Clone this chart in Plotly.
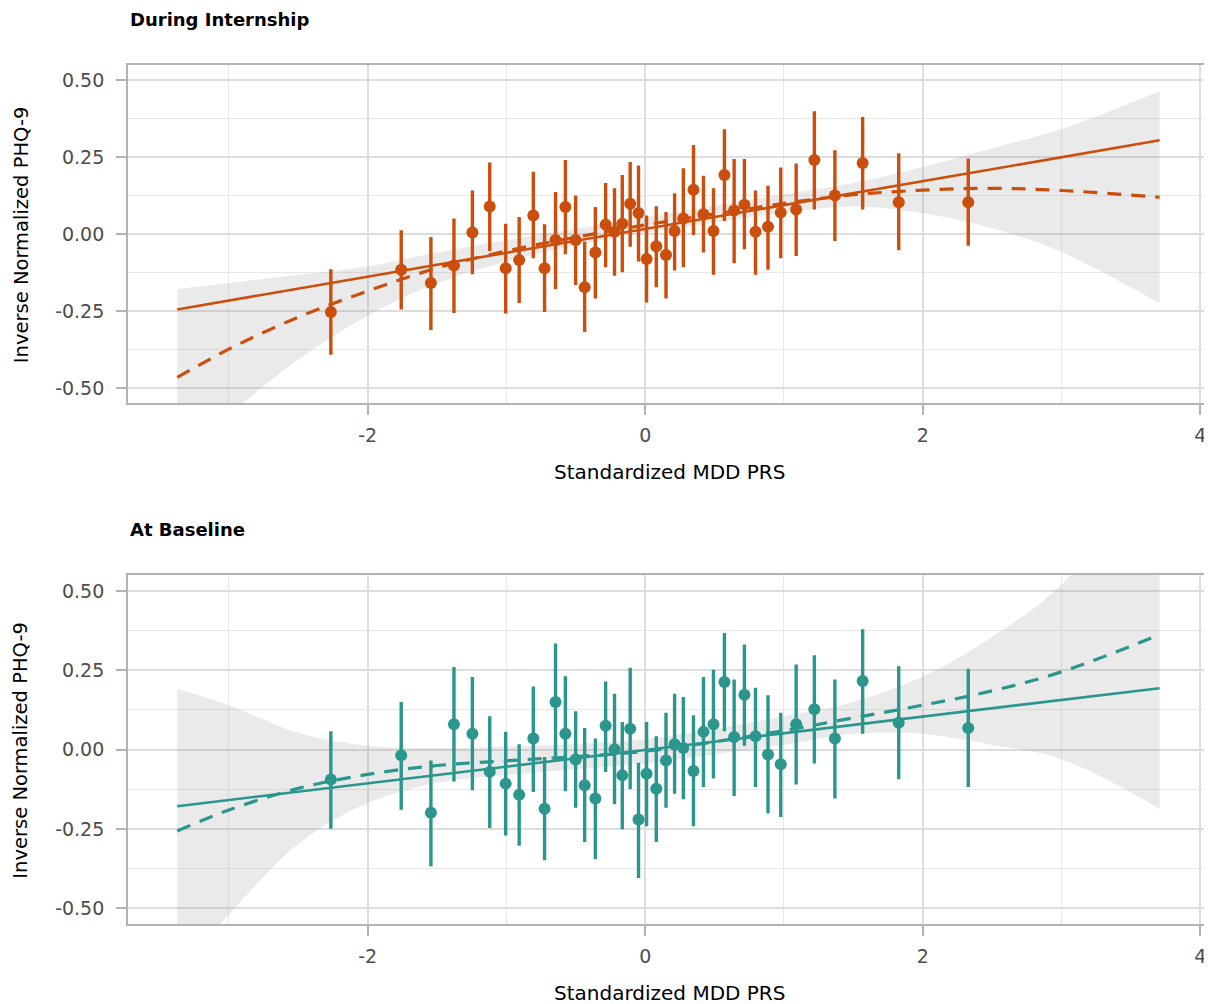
import plotly.graph_objects as go
import numpy as np

# ---------------- data ----------------
prs_bins = [-2.265, -1.758, -1.544, -1.378, -1.245, -1.120, -1.005, -0.908, -0.806, -0.725,
            -0.646, -0.575, -0.501, -0.436, -0.359, -0.285, -0.221, -0.165, -0.108, -0.048,
            0.010, 0.080, 0.150, 0.212, 0.275, 0.348, 0.420, 0.492, 0.571, 0.641,
            0.715, 0.795, 0.885, 0.977, 1.088, 1.219, 1.367, 1.567, 1.827, 2.328]

intern_mean = [-0.253, -0.116, -0.159, -0.102, 0.005, 0.090, -0.111, -0.084, 0.061, -0.111,
               -0.019, 0.088, -0.019, -0.173, -0.060, 0.031, 0.008, 0.034, 0.099, 0.069,
               -0.081, -0.039, -0.068, 0.010, 0.051, 0.144, 0.065, 0.010, 0.192, 0.077,
               0.096, 0.008, 0.024, 0.070, 0.080, 0.241, 0.126, 0.231, 0.104, 0.104]
intern_lo = [-0.392, -0.245, -0.312, -0.256, -0.130, -0.055, -0.258, -0.224, -0.078, -0.253,
             -0.178, -0.065, -0.165, -0.318, -0.209, -0.108, -0.135, -0.124, -0.041, -0.089,
             -0.222, -0.173, -0.209, -0.118, -0.108, -0.003, -0.060, -0.132, 0.043, -0.095,
             -0.049, -0.132, -0.116, -0.078, -0.071, 0.080, -0.022, 0.080, -0.052, -0.038]
intern_hi = [-0.114, 0.013, -0.009, 0.051, 0.142, 0.233, 0.034, 0.056, 0.203, 0.032,
             0.137, 0.241, 0.126, -0.025, 0.088, 0.166, 0.149, 0.192, 0.235, 0.223,
             0.061, 0.091, 0.072, 0.133, 0.214, 0.290, 0.190, 0.149, 0.341, 0.244,
             0.244, 0.142, 0.157, 0.217, 0.230, 0.400, 0.273, 0.381, 0.263, 0.246]

base_mean = [-0.094, -0.018, -0.199, 0.080, 0.050, -0.070, -0.107, -0.142, 0.035, -0.186,
             0.150, 0.050, -0.031, -0.112, -0.154, 0.075, 0.001, -0.081, 0.066, -0.220,
             -0.076, -0.123, -0.034, 0.017, 0.005, -0.067, 0.056, 0.080, 0.213, 0.040,
             0.173, 0.042, -0.015, -0.046, 0.080, 0.127, 0.035, 0.216, 0.085, 0.068]
base_lo = [-0.249, -0.189, -0.367, -0.100, -0.128, -0.247, -0.270, -0.303, -0.133, -0.348,
           -0.034, -0.131, -0.183, -0.291, -0.345, -0.070, -0.172, -0.251, -0.125, -0.404,
           -0.241, -0.291, -0.183, -0.139, -0.156, -0.241, -0.118, -0.091, 0.058, -0.146,
           0.012, -0.118, -0.201, -0.212, -0.110, -0.044, -0.154, 0.050, -0.093, -0.118]
base_hi = [0.058, 0.150, -0.034, 0.260, 0.229, 0.105, 0.056, 0.017, 0.199, -0.023,
           0.334, 0.231, 0.121, 0.068, 0.035, 0.215, 0.176, 0.087, 0.258, -0.041,
           0.087, 0.042, 0.116, 0.176, 0.166, 0.108, 0.229, 0.252, 0.367, 0.221,
           0.331, 0.195, 0.171, 0.116, 0.268, 0.297, 0.221, 0.379, 0.263, 0.255]

# linear fits (range of PRS, intercept, slope)
prs_range = [-3.372, 3.707]
intern_linear = [0.017, 0.0777]
base_linear = [-0.001, 0.0525]

# smooth (non-linear) fits and confidence bands, read at these PRS values
curve_x = [-3.372, -3.0, -2.5, -2.0, -1.5, -1.0, -0.5, 0.0, 0.5, 1.0, 1.5, 2.0, 2.5, 3.0, 3.707]
intern_curve = [-0.466, -0.374, -0.270, -0.185, -0.110, -0.055, -0.010, 0.030, 0.065, 0.100,
                0.128, 0.143, 0.149, 0.142, 0.120]
intern_band_lo = [-0.753, -0.589, -0.408, -0.265, -0.160, -0.090, -0.037, 0.005, 0.038, 0.070,
                  0.090, 0.068, 0.019, -0.058, -0.225]
intern_band_hi = [-0.179, -0.159, -0.132, -0.105, -0.060, -0.020, 0.017, 0.055, 0.092, 0.130,
                  0.166, 0.218, 0.279, 0.342, 0.465]
base_curve = [-0.256, -0.190, -0.122, -0.078, -0.050, -0.035, -0.022, -0.005, 0.025, 0.060,
              0.100, 0.140, 0.185, 0.245, 0.362]
base_band_lo = [-0.704, -0.520, -0.297, -0.168, -0.105, -0.080, -0.062, -0.043, -0.015, 0.015,
                0.050, 0.050, 0.015, -0.030, -0.186]
base_band_hi = [0.192, 0.140, 0.053, 0.012, 0.005, 0.010, 0.018, 0.033, 0.065, 0.105,
                0.150, 0.230, 0.355, 0.520, 0.910]

x_tick_vals = [-2, 0, 2, 4]
x_tick_text = ["-2", "0", "2", "4"]
x_minor_vals = [-3, -1, 1, 3]
y_tick_vals = [-0.5, -0.25, 0.0, 0.25, 0.5]
y_tick_text = ["-0.50", "-0.25", "0.00", "0.25", "0.50"]
y_minor_vals = [-0.375, -0.125, 0.125, 0.375]

panel_titles = ["During Internship", "At Baseline"]
x_title = "Standardized MDD PRS"
y_title = "Inverse Normalized PHQ-9"

ORANGE = "#CB4E0C"
TEAL = "#2A968E"
OFF = 8                      # page body margin in the browser
W, H = 1212 - OFF, 1004 - OFF
FONT = "DejaVu Sans, Liberation Sans, Arial, sans-serif"

# panel pixel geometry (in page pixels, converted to figure pixels)
px_left, px_right = 128.3 - OFF, 1212 - OFF
panels = [(65.0 - OFF, 403.3 - OFF), (575.0 - OFF, 924.3 - OFF)]

fig = go.Figure()

datasets = [
    (intern_mean, intern_lo, intern_hi, intern_linear, intern_curve, intern_band_lo, intern_band_hi, ORANGE),
    (base_mean, base_lo, base_hi, base_linear, base_curve, base_band_lo, base_band_hi, TEAL),
]

for i, (mean, lo, hi, lin, curve, blo, bhi, col) in enumerate(datasets):
    xa = "x" if i == 0 else "x2"
    ya = "y" if i == 0 else "y2"
    # band
    fig.add_trace(go.Scatter(x=curve_x, y=blo, mode="lines", line=dict(width=0, shape="spline"),
                             xaxis=xa, yaxis=ya, showlegend=False, hoverinfo="skip"))
    fig.add_trace(go.Scatter(x=curve_x, y=bhi, mode="lines", line=dict(width=0, shape="spline"),
                             fill="tonexty", fillcolor="rgba(150,150,150,0.2)",
                             xaxis=xa, yaxis=ya, showlegend=False, hoverinfo="skip"))
    # dashed smooth curve
    fig.add_trace(go.Scatter(x=curve_x, y=curve, mode="lines",
                             line=dict(color=col, width=3.2, dash="14px,10px", shape="spline"),
                             xaxis=xa, yaxis=ya, showlegend=False))
    # linear fit
    lx = np.array(prs_range)
    fig.add_trace(go.Scatter(x=lx, y=lin[0] + lin[1] * lx, mode="lines",
                             line=dict(color=col, width=2.6),
                             xaxis=xa, yaxis=ya, showlegend=False))
    # binned means with CI
    m = np.array(mean)
    fig.add_trace(go.Scatter(
        x=prs_bins, y=mean, mode="markers",
        marker=dict(color=col, size=12),
        error_y=dict(type="data", symmetric=False,
                     array=np.array(hi) - m, arrayminus=m - np.array(lo),
                     color=col, thickness=3.4, width=0),
        xaxis=xa, yaxis=ya, showlegend=False))

axis_common = dict(
    showline=True, mirror=True, linecolor="#B3B3B3", linewidth=2,
    ticks="outside", ticklen=10, tickwidth=2, tickcolor="#B3B3B3",
    showgrid=True, gridcolor="#DDDDDD", gridwidth=2, zeroline=False,
    tickfont=dict(family=FONT, size=19, color="#4D4D4D"),
)

layout = dict(
    width=W, height=H, margin=dict(l=0, r=0, t=0, b=0),
    paper_bgcolor="white", plot_bgcolor="white", showlegend=False,
    font=dict(family=FONT),
)

annotations = []
for i, (top, bot) in enumerate(panels):
    sfx = "" if i == 0 else "2"
    layout["xaxis" + sfx] = dict(
        axis_common, domain=[px_left / W, px_right / W], range=[-3.726, 4.07],
        tickmode="array", tickvals=x_tick_vals, ticktext=x_tick_text,
        minor=dict(tickmode="array", tickvals=x_minor_vals, showgrid=True,
                   gridcolor="#E8E8E8", gridwidth=1.2),
        anchor="y" + sfx, ticklabelstandoff=4,
    )
    layout["yaxis" + sfx] = dict(
        axis_common, domain=[(H - bot) / H, (H - top) / H], range=[-0.55, 0.55],
        tickmode="array", tickvals=y_tick_vals, ticktext=y_tick_text,
        minor=dict(tickmode="array", tickvals=y_minor_vals, showgrid=True,
                   gridcolor="#E8E8E8", gridwidth=1.2),
        anchor="x" + sfx, ticklabelstandoff=8,
    )
    # panel title
    annotations.append(dict(text="<b>" + panel_titles[i] + "</b>", xref="paper", yref="paper",
                            x=px_left / W, y=(H - (top - 46)) / H, xanchor="left", yanchor="middle",
                            showarrow=False, font=dict(family=FONT, size=18, color="black")))
    # x title
    annotations.append(dict(text=x_title, xref="paper", yref="paper",
                            x=((px_left + px_right) / 2) / W, y=(H - (bot + 69)) / H,
                            xanchor="center", yanchor="middle", showarrow=False,
                            font=dict(family=FONT, size=20, color="black")))
    # y title
    annotations.append(dict(text=y_title, xref="paper", yref="paper",
                            x=(21 - OFF) / W, y=(H - (top + bot) / 2) / H, textangle=-90,
                            xanchor="center", yanchor="middle", showarrow=False,
                            font=dict(family=FONT, size=19.5, color="black")))

layout["annotations"] = annotations
fig.update_layout(**layout)
fig.write_html("out.html")
